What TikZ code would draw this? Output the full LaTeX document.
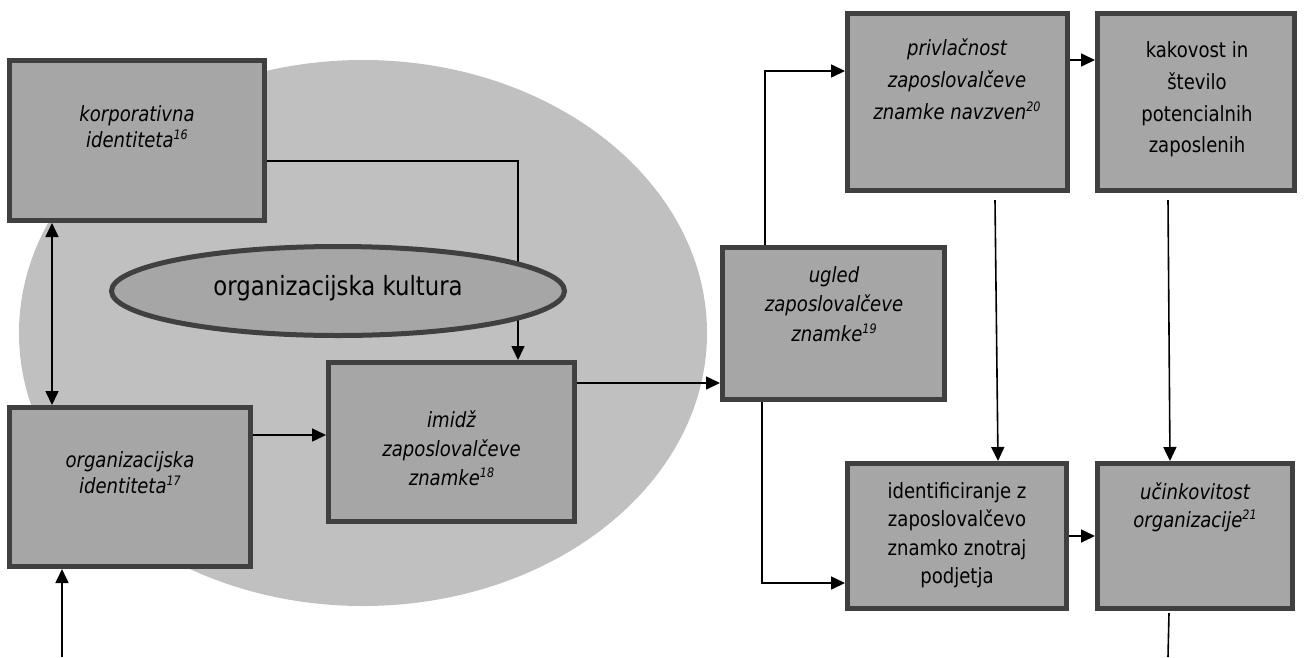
\documentclass[tikz,border=0pt]{standalone}
\usepackage{fontspec}
\usetikzlibrary{arrows.meta,shapes.geometric}
\newfontfamily\tahfont[FakeStretch=0.86]{DejaVu Sans}
\definecolor{bigfill}{HTML}{C0C0C0}
\definecolor{boxfill}{HTML}{A6A6A6}
\definecolor{bord}{HTML}{404040}
\newcommand\sps[1]{\raisebox{8pt}{\fontsize{13}{13}\selectfont #1}}
\tikzset{
  boxnode/.style={draw=bord, line width=5pt, fill=boxfill, inner sep=0pt},
  txt/.style={align=center, inner sep=0pt, anchor=north, text=black},
  arr/.style={-{Triangle[length=14pt,width=13pt]}, line width=1.6pt},
  darr/.style={{Triangle[length=14pt,width=13pt]}-{Triangle[length=14pt,width=13pt]}, line width=1.6pt},
  plain/.style={line width=1.6pt}
}
\begin{document}
\begin{tikzpicture}[x=1pt,y=-1pt]
\useasboundingbox (0,0) rectangle (1309,657);
% organisational culture background
\fill[bigfill] (363,333) ellipse [x radius=344, y radius=273];
% boxes
\node[boxnode, minimum width=255pt, minimum height=160pt] (korp) at (137,140.5) {};
\node[boxnode, minimum width=241pt, minimum height=159pt] (orgid) at (130,487) {};
\node[boxnode, minimum width=246pt, minimum height=159pt] (imidz) at (451.5,442) {};
\node[boxnode, minimum width=222pt, minimum height=152pt] (ugled) at (833.5,323.5) {};
\node[boxnode, minimum width=220pt, minimum height=177pt] (privl) at (957.5,102) {};
\node[boxnode, minimum width=197pt, minimum height=177pt] (kakov) at (1196,102) {};
\node[boxnode, minimum width=219pt, minimum height=145pt] (ident) at (957,536) {};
\node[boxnode, minimum width=195pt, minimum height=145pt] (ucink) at (1195,536) {};
% texts
\node[txt, font=\tahfont\fontsize{21}{26.5}\selectfont\itshape] (tkorp) at (137,105) {korporativna\\identiteta\sps{16}};
\node[txt, font=\tahfont\fontsize{21}{26}\selectfont\itshape] (torgid) at (130,451) {organizacijska\\identiteta\sps{17}};
\node[txt, font=\tahfont\fontsize{21}{29}\selectfont\itshape] (timidz) at (451.5,410) {imidž\\zaposlovalčeve\\znamke\sps{18}};
\node[txt, font=\tahfont\fontsize{21}{29.5}\selectfont\itshape] (tugled) at (834,266) {ugled\\zaposlovalčeve\\znamke\sps{19}};
\node[txt, font=\tahfont\fontsize{21}{32}\selectfont\itshape] (tprivl) at (957,38) {privlačnost\\zaposlovalčeve\\znamke navzven\sps{20}};
\node[txt, font=\tahfont\fontsize{21}{31.7}\selectfont] (tkakov) at (1197,41.5) {kakovost in\\število\\potencialnih\\zaposlenih};
\node[txt, font=\tahfont\fontsize{21}{28.5}\selectfont] (tident) at (957,482) {identificiranje z\\zaposlovalčevo\\znamko znotraj\\podjetja};
\node[txt, font=\tahfont\fontsize{21}{28}\selectfont\itshape] (tucink) at (1195,482) {učinkovitost\\organizacije\sps{21}};
% connectors
\draw[arr] ([yshift=-20.5pt]korp.east) -| ([xshift=66.5pt]imidz.north);
\draw[darr] ([xshift=-85pt]korp.south) -- ([xshift=-78pt]orgid.north);
\coordinate (p1) at ([yshift=52pt]orgid.east);
\draw[arr] (p1) -- (p1 -| imidz.west);
\coordinate (inA) at (62,657);
\draw[arr] (inA) -- (inA |- orgid.south);
\coordinate (p2) at ([yshift=59pt]imidz.east);
\draw[arr] (p2) -- (p2 -| ugled.west);
\draw[arr] ([xshift=-68.5pt]ugled.north) |- ([yshift=31pt]privl.west);
\draw[arr] ([xshift=-71.5pt]ugled.south) |- ([yshift=-47pt]ident.west);
\coordinate (p3) at ([yshift=42pt]privl.east);
\draw[arr] (p3) -- (p3 -| kakov.west);
\coordinate (s1) at (995,200);
\draw[arr] (s1) -- ([xshift=41pt]ident.north);
\coordinate (s2) at (1168,200);
\draw[arr] (s2) -- ([xshift=-25pt]ucink.north);
\draw[arr] (ident.east) -- (ucink.west);
\coordinate (s3) at (1169,613);
\coordinate (outB) at (1168,657);
\draw[plain] (s3) -- (outB);
% culture ellipse (on top of the connector)
\node[draw=bord, line width=5pt, fill=boxfill, ellipse, minimum width=453pt, minimum height=89pt, inner sep=0pt] (kult) at (338,291) {};
\node[anchor=base, inner sep=0pt, font=\tahfont\fontsize{26.5}{30}\selectfont] (tkult) at (338,295) {organizacijska kultura};
\end{tikzpicture}
\end{document}
